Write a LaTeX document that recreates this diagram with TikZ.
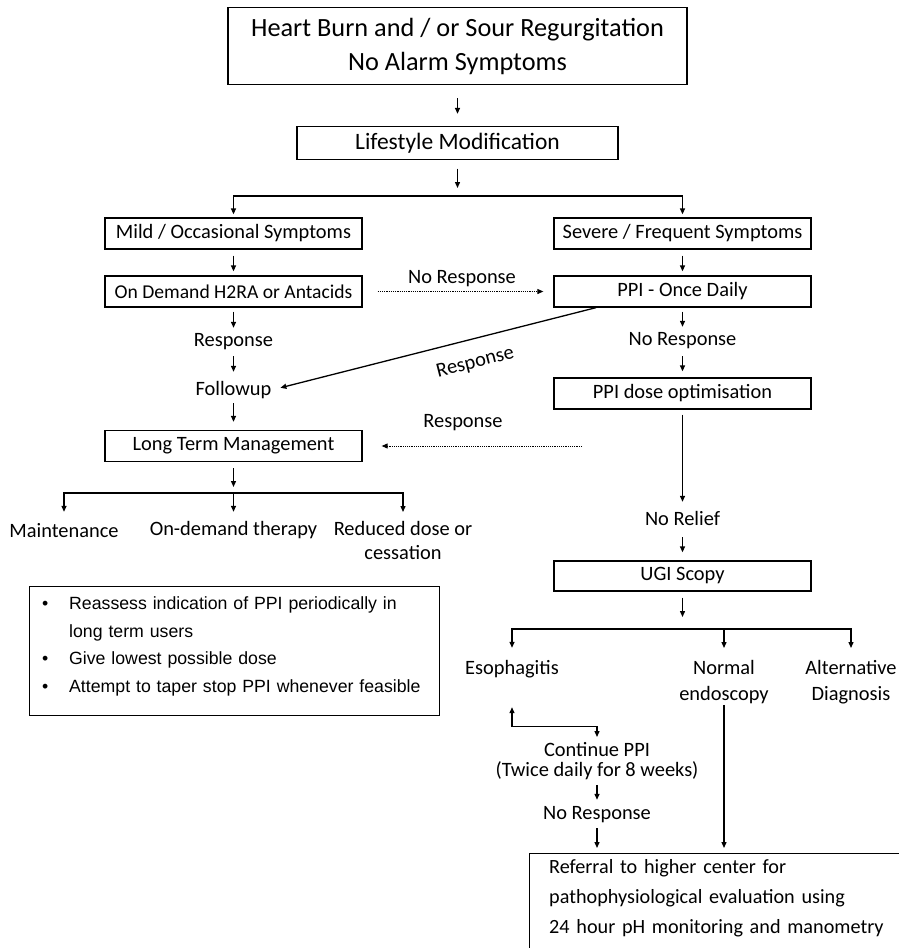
\documentclass[tikz,border=0pt]{standalone}
\usepackage{fontspec}
\setmainfont{Carlito}
\newfontfamily\bulfont{Liberation Sans}
\usetikzlibrary{arrows.meta}
\newcommand\fmainsz{\fontsize{20.4}{24}\selectfont}
\newcommand\ftopsz{\fontsize{26.3}{34}\selectfont}
\begin{document}
\begin{tikzpicture}[x=1pt,y=-1pt,
  lw/.style={line width=1.3pt},
  box/.style={draw, lw, minimum width=257pt, minimum height=31pt, inner sep=0pt, font=\fmainsz},
  lbl/.style={inner sep=0pt, text height=14pt, text depth=4pt, font=\fmainsz},
  mlbl/.style={inner sep=0pt, align=center, font=\fmainsz},
  arr/.style={lw, -{Triangle[length=6pt,width=5pt]}},
  darr/.style={lw, {Triangle[length=6pt,width=5pt]}-{Triangle[length=6pt,width=5pt]}},
  dotarr/.style={line width=1pt, dash pattern=on 1.2pt off 1pt, -{Triangle[length=6pt,width=5pt]}},
]
\useasboundingbox (0,0) rectangle (899,948);

% nodes
\node[draw,lw,minimum width=459pt,minimum height=77pt,align=center,font=\ftopsz,inner sep=0pt] (top) at (457.5,46) {Heart Burn and / or Sour Regurgitation\\No Alarm Symptoms};
\node[box, minimum width=321pt, minimum height=33pt, font={\fontsize{23.5}{26}\selectfont}] (life) at (457.5,143) {Lifestyle Modification};
\coordinate (split) at (457.5,196);
\node[box] (mild) at (233.5,233.5) {Mild / Occasional Symptoms};
\node[box] (sev) at (682.5,233.5) {Severe / Frequent Symptoms};
\node[box, font={\fontsize{19.6}{24}\selectfont}] (ond) at (233.5,291.5) {On Demand H2RA or Antacids};
\node[box] (ppi) at (682.5,291.5) {PPI - Once Daily};
\node[lbl] (nr1) at (462,278) {No Response};
\node[lbl] (resp1) at (233.5,341) {Response};
\node[lbl] (follow) at (233.5,390) {Followup};
\node[lbl] (nr2) at (682.5,340) {No Response};
\node[box] (dose) at (682.5,393.5) {PPI dose optimisation};
\node[box] (ltm) at (233.5,446) {Long Term Management};
\node[lbl] (resp3) at (463,422) {Response};
\coordinate (rsrc) at (582,446);
\coordinate (split2) at (233.5,493);
\node[lbl] (maint) at (64,532) {Maintenance};
\node[lbl] (odt) at (233.5,530) {On-demand therapy};
\node[mlbl, anchor=north, font={\fontsize{20.4}{24}\selectfont}] (red) at (403,521) {Reduced dose or\\cessation};
\node[lbl] (norel) at (682.5,520) {No Relief};
\node[box, minimum height=30pt] (ugi) at (682.5,576) {UGI Scopy};
\coordinate (split3) at (682.5,629);
\node[lbl] (eso) at (512,669) {Esophagitis};
\node[mlbl, anchor=north, font={\fontsize{20.4}{26}\selectfont}] (norm) at (724,660) {Normal\\endoscopy};
\node[mlbl, anchor=north, font={\fontsize{20.4}{26}\selectfont}] (alt) at (851,660) {Alternative\\Diagnosis};
\node[mlbl, anchor=north, font={\fontsize{20.4}{20}\selectfont}] (cont) at (597,742) {Continue PPI\\(Twice daily for 8 weeks)};
\node[lbl] (nr3) at (597,814) {No Response};

% referral box
\node[draw,lw,anchor=north west,minimum width=380pt,minimum height=105pt,inner sep=0pt] (ref) at (529,853) {};
\node[anchor=north west, align=left, inner sep=0pt, text width=345pt, font={\fontsize{20.2}{30}\selectfont}] (reftxt) at (549,859) {Referral to higher center for\\pathophysiological evaluation using\\24 hour pH monitoring and manometry};

% bullet box
\node[draw,lw,anchor=north west,minimum width=410pt,minimum height=129pt,inner sep=0pt] (bbox) at (29,586) {};
\node[anchor=north west, align=left, inner sep=0pt, text width=395pt, font={\bulfont\fontsize{17.7}{27.6}\selectfont}] (btxt) at (42,596.5) {\makebox[27pt][l]{\textbullet}Reassess indication of PPI periodically in\\\hspace*{27pt}long term users\\\makebox[27pt][l]{\textbullet}Give lowest possible dose\\\makebox[27pt][l]{\textbullet}Attempt to taper stop PPI whenever feasible};

% connectors
\draw[arr, shorten <=13pt, shorten >=12pt] (top) -- (life);
\draw[arr, shorten <=8.5pt, shorten >=8pt] (life) -- (split);
\draw[arr] (split) -| ([yshift=3pt]mild.north);
\draw[arr] (split) -| ([yshift=3pt]sev.north);
\draw[arr, shorten <=6pt, shorten >=4pt] (mild) -- (ond);
\draw[arr, shorten <=6pt, shorten >=4pt] (sev) -- (ppi);
\draw[dotarr, shorten <=15pt, shorten >=10pt] (ond) -- (ppi);
\draw[arr, shorten <=4pt, shorten >=4pt] (ond) -- (resp1);
\draw[arr, shorten <=6pt, shorten >=9pt] (resp1) -- (follow);
\draw[arr, shorten <=4pt, shorten >=8pt] (follow) -- (ltm);
\draw[arr, shorten <=4pt, shorten >=4pt] (ppi) -- (nr2);
\draw[arr, shorten <=7pt, shorten >=6pt] (nr2) -- (dose);
\draw[arr, shorten >=9pt] ([xshift=-86.5pt]ppi.south) -- (follow.east)
  node[lbl, sloped, below=14pt, pos=0.39] (resp2) {Response};
\draw[dotarr, shorten >=19pt] (rsrc) -- (ltm);
\draw[arr, shorten <=6pt, shorten >=6pt] (ltm) -- (split2);
\draw[arr] (split2) -| ([yshift=11pt]maint.north);
\draw[arr] (split2) -- ([yshift=9pt]odt.north);
\draw[arr] (split2) -| ([yshift=9pt]red.north);
\draw[arr, shorten <=5pt, shorten >=9pt] (dose) -- (norel);
\draw[arr, shorten <=8pt, shorten >=8pt] (norel) -- (ugi);
\draw[arr, shorten <=6pt, shorten >=12pt] (ugi) -- (split3);
\draw[arr] (split3) -| ([yshift=12pt]eso.north);
\draw[arr] (split3) -| ([yshift=12pt]norm.north);
\draw[arr] (split3) -| ([yshift=12pt]alt.north);
\draw[darr] ([yshift=-29pt]eso.south) -- ++(0,19) -| ([yshift=5pt]cont.north);
\draw[arr, shorten <=5pt, shorten >=5pt] (cont) -- (nr3);
\draw[arr, shorten <=5pt, shorten >=5pt] (nr3.south) -- (nr3.south |- ref.north);
\draw[arr, shorten <=1pt, shorten >=5pt] (norm.south) -- (norm.south |- ref.north);
\end{tikzpicture}
\end{document}
